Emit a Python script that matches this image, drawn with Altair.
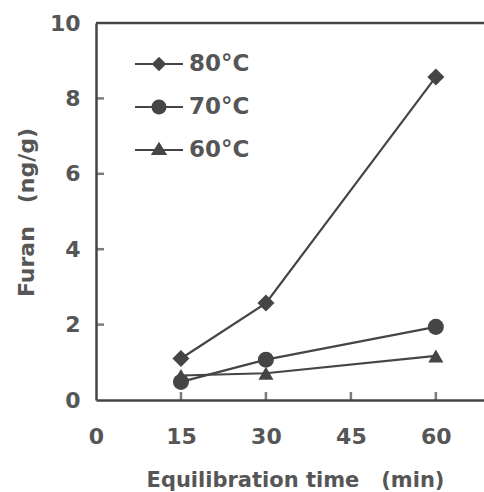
import altair as alt
import pandas as pd

# Furan formed during headspace equilibration at three temperatures
times = [15, 30, 60]
furan_80 = [1.1, 2.57, 8.57]
furan_70 = [0.48, 1.07, 1.94]
furan_60 = [0.65, 0.71, 1.17]
series = ["80°C", "70°C", "60°C"]

x_ticks = [0, 15, 30, 45, 60]
y_ticks = [0, 2, 4, 6, 8, 10]
inner_x_ticks = [15, 30, 45, 60]
inner_y_ticks = [2, 4, 6, 8]

rows = []
for name, vals in zip(series, [furan_80, furan_70, furan_60]):
    for t, v in zip(times, vals):
        rows.append({"time": t, "furan": v, "series": name, "temp": name})
df = pd.DataFrame(rows)

INK = "#454545"
TEXT = "#565656"
FONT = "DejaVu Sans"
GAP = "\u00a0\u00a0\u00a0"

x_enc = alt.X(
    "time:Q",
    scale=alt.Scale(domain=[0, 68.5], nice=False, zero=False),
    axis=alt.Axis(values=x_ticks, title="Equilibration time" + GAP + "(min)",
                  labelPadding=26, labelFlush=False, titleY=86, titleX=199,
                  titleFontSize=21, titleBaseline="alphabetic"),
)
y_enc = alt.Y(
    "furan:Q",
    scale=alt.Scale(domain=[0, 10], nice=False),
    axis=alt.Axis(values=y_ticks, title="Furan" + GAP + "(ng/g)",
                  labelPadding=16, labelFlush=False, titleX=-63, titleY=189,
                  titleBaseline="alphabetic"),
)

lines = alt.Chart(df).mark_line(color=INK, strokeWidth=2.2).encode(
    x=x_enc, y=y_enc, detail="series:N"
)

points = alt.Chart(df).mark_point(filled=True, color=INK, opacity=1).encode(
    x="time:Q",
    y="furan:Q",
    shape=alt.Shape("series:N",
                    scale=alt.Scale(domain=series,
                                    range=["diamond", "circle", "triangle-up"]),
                    legend=None),
    size=alt.Size("series:O",
                  scale=alt.Scale(domain=series, range=[289, 225, 289]),
                  legend=None),
)

# legend glyphs: a short bar (the line) with the series marker on it
BAR = "M-2,-0.09H2V0.09H-2Z"
legend_paths = [
    BAR + "M-0.6,0L0,-0.6L0.6,0L0,0.6Z",
    BAR + "M-0.62,0A0.62,0.62 0 1,1 0.62,0A0.62,0.62 0 1,1 -0.62,0Z",
    BAR + "M-0.68,0.42L0,-0.68L0.68,0.42Z",
]
legend_layer = alt.Chart(df).mark_point(
    filled=True, color=INK, opacity=0, size=576
).encode(
    x="time:Q",
    y="furan:Q",
    shape=alt.Shape(
        "temp:N",
        scale=alt.Scale(domain=series, range=legend_paths),
        legend=alt.Legend(
            title=None, orient="none", legendX=50, legendY=28, padding=0,
            rowPadding=18, labelFont=FONT, labelFontSize=23,
            labelFontWeight="bold", labelColor=TEXT, labelOffset=17,
            symbolSize=576, symbolOpacity=1, symbolFillColor=INK,
        ),
    ),
)

top_border = alt.Chart(pd.DataFrame({"furan": [10]})).mark_rule(
    color=INK, strokeWidth=2.5
).encode(y="furan:Q")

y_ticks_in = alt.Chart(pd.DataFrame({"furan": inner_y_ticks})).mark_tick(
    orient="horizontal", size=8, thickness=2.5, xOffset=4, color=INK
).encode(x=alt.datum(0), y="furan:Q")

x_ticks_in = alt.Chart(pd.DataFrame({"time": inner_x_ticks})).mark_tick(
    orient="vertical", size=8, thickness=2.5, yOffset=-4, color=INK
).encode(x="time:Q", y=alt.datum(0))

chart = alt.layer(
    lines, top_border, y_ticks_in, x_ticks_in, points, legend_layer
).resolve_scale(
    shape="independent"
).properties(
    width=388,
    height=377,
    padding={"left": 96, "top": 23, "right": 0, "bottom": 92},
    autosize=alt.AutoSizeParams(type="none"),
    background="white",
).configure_view(
    stroke=None
).configure_axis(
    domainColor=INK, domainWidth=2.5, grid=False, ticks=False, tickSize=0,
    labelFont=FONT, labelFontSize=22, labelFontWeight="bold", labelColor=TEXT,
    titleFont=FONT, titleFontSize=22, titleFontWeight="bold", titleColor=TEXT,
)

chart.save("out.html", embed_options={"renderer": "svg", "actions": False})
